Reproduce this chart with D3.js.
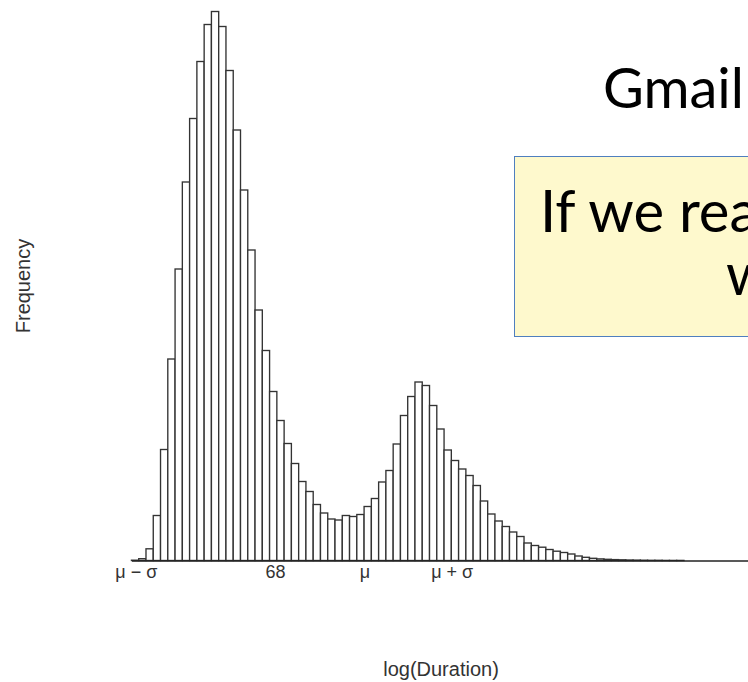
<!DOCTYPE html>
<html>
<head>
<meta charset="utf-8">
<script src="https://cdn.jsdelivr.net/npm/d3@7"></script>
<style>
  html, body { margin: 0; padding: 0; background: #fff; }
  svg { display: block; }
</style>
</head>
<body>
<svg id="chart" width="748" height="682"></svg>
<script>
// Histogram of log(Duration): one frequency per bin, left to right
const binFrequencies = [
  3, 18, 117, 450, 1110,
  2015, 2915, 3785, 4420, 4990, 5360, 5490, 5340, 4900, 4305,
  3705, 3105, 2505, 2100, 1690, 1400, 1170, 970, 790, 690,
  560, 475, 415, 405, 450, 440, 460, 540, 620, 785,
  900, 1165, 1450, 1640, 1785, 1750, 1550, 1315, 1105, 1000,
  915, 850, 750, 595, 465, 395, 340, 285, 240, 175,
  150, 133, 110, 93, 80, 65, 45, 32, 22, 16,
  12, 9, 7, 5, 4, 3, 2, 2, 1, 1,
  1, 0, 0, 0, 0, 0, 0, 0, 0, 0
];

// Axis ticks (in bin units) and their labels
const tickPositions = [0.6, 19.75, 32.05, 44.05];
const tickLabels = ["\u03bc \u2212 \u03c3", "68", "\u03bc", "\u03bc + \u03c3"];

const xTitle = "log(Duration)";
const yTitle = "Frequency";
const slideTitle = "Gmail";
const calloutLines = ["If we rea", "w"];

const svg = d3.select("#chart");

const x = d3.scaleLinear()
  .domain([0, binFrequencies.length])
  .range([131.45, 131.45 + binFrequencies.length * 7.27]);

const y = d3.scaleLinear()
  .domain([0, 5500])
  .range([560.5, 10.5]);

// Slide title and callout box
svg.append("text")
  .attr("x", 603).attr("y", 108)
  .attr("font-family", "Lato, sans-serif")
  .attr("font-size", 56)
  .attr("fill", "#000")
  .text(slideTitle);

svg.append("rect")
  .attr("x", 514.5).attr("y", 156.5)
  .attr("width", 260).attr("height", 180)
  .attr("fill", "#fef9cd")
  .attr("stroke", "#4f7fbf")
  .attr("stroke-width", 1);

svg.append("text")
  .attr("x", 540).attr("y", 232)
  .attr("font-family", "Lato, sans-serif")
  .attr("font-size", 58)
  .attr("fill", "#000")
  .text(calloutLines[0]);

svg.append("text")
  .attr("x", 726).attr("y", 295)
  .attr("font-family", "Lato, sans-serif")
  .attr("font-size", 58)
  .attr("fill", "#000")
  .text(calloutLines[1]);

// Histogram bars
svg.append("g")
  .selectAll("rect")
  .data(binFrequencies)
  .join("rect")
  .attr("x", (d, i) => x(i))
  .attr("y", d => y(d))
  .attr("width", (d, i) => x(i + 1) - x(i))
  .attr("height", d => y(0) - y(d))
  .attr("fill", "#fff")
  .attr("stroke", "#333")
  .attr("stroke-width", 1.35);

// Baseline with tick labels
const xAxis = d3.axisBottom(x)
  .tickValues(tickPositions)
  .tickFormat((d, i) => tickLabels[i])
  .tickSize(0)
  .tickPadding(5);

const axisG = svg.append("g")
  .attr("transform", `translate(0,${y(0)})`)
  .call(xAxis);
axisG.select(".domain")
  .attr("stroke", "#222")
  .attr("stroke-width", 1.4);
axisG.selectAll("text")
  .attr("font-family", "'Liberation Sans', Arial, sans-serif")
  .attr("font-size", 18)
  .attr("fill", "#333");

// Axis titles
svg.append("text")
  .attr("x", 441).attr("y", 676)
  .attr("text-anchor", "middle")
  .attr("font-family", "'Liberation Sans', Arial, sans-serif")
  .attr("font-size", 20)
  .attr("fill", "#333")
  .text(xTitle);

svg.append("text")
  .attr("transform", "translate(30,286) rotate(-90)")
  .attr("text-anchor", "middle")
  .attr("font-family", "'Liberation Sans', Arial, sans-serif")
  .attr("font-size", 20)
  .attr("fill", "#333")
  .text(yTitle);
</script>
</body>
</html>
